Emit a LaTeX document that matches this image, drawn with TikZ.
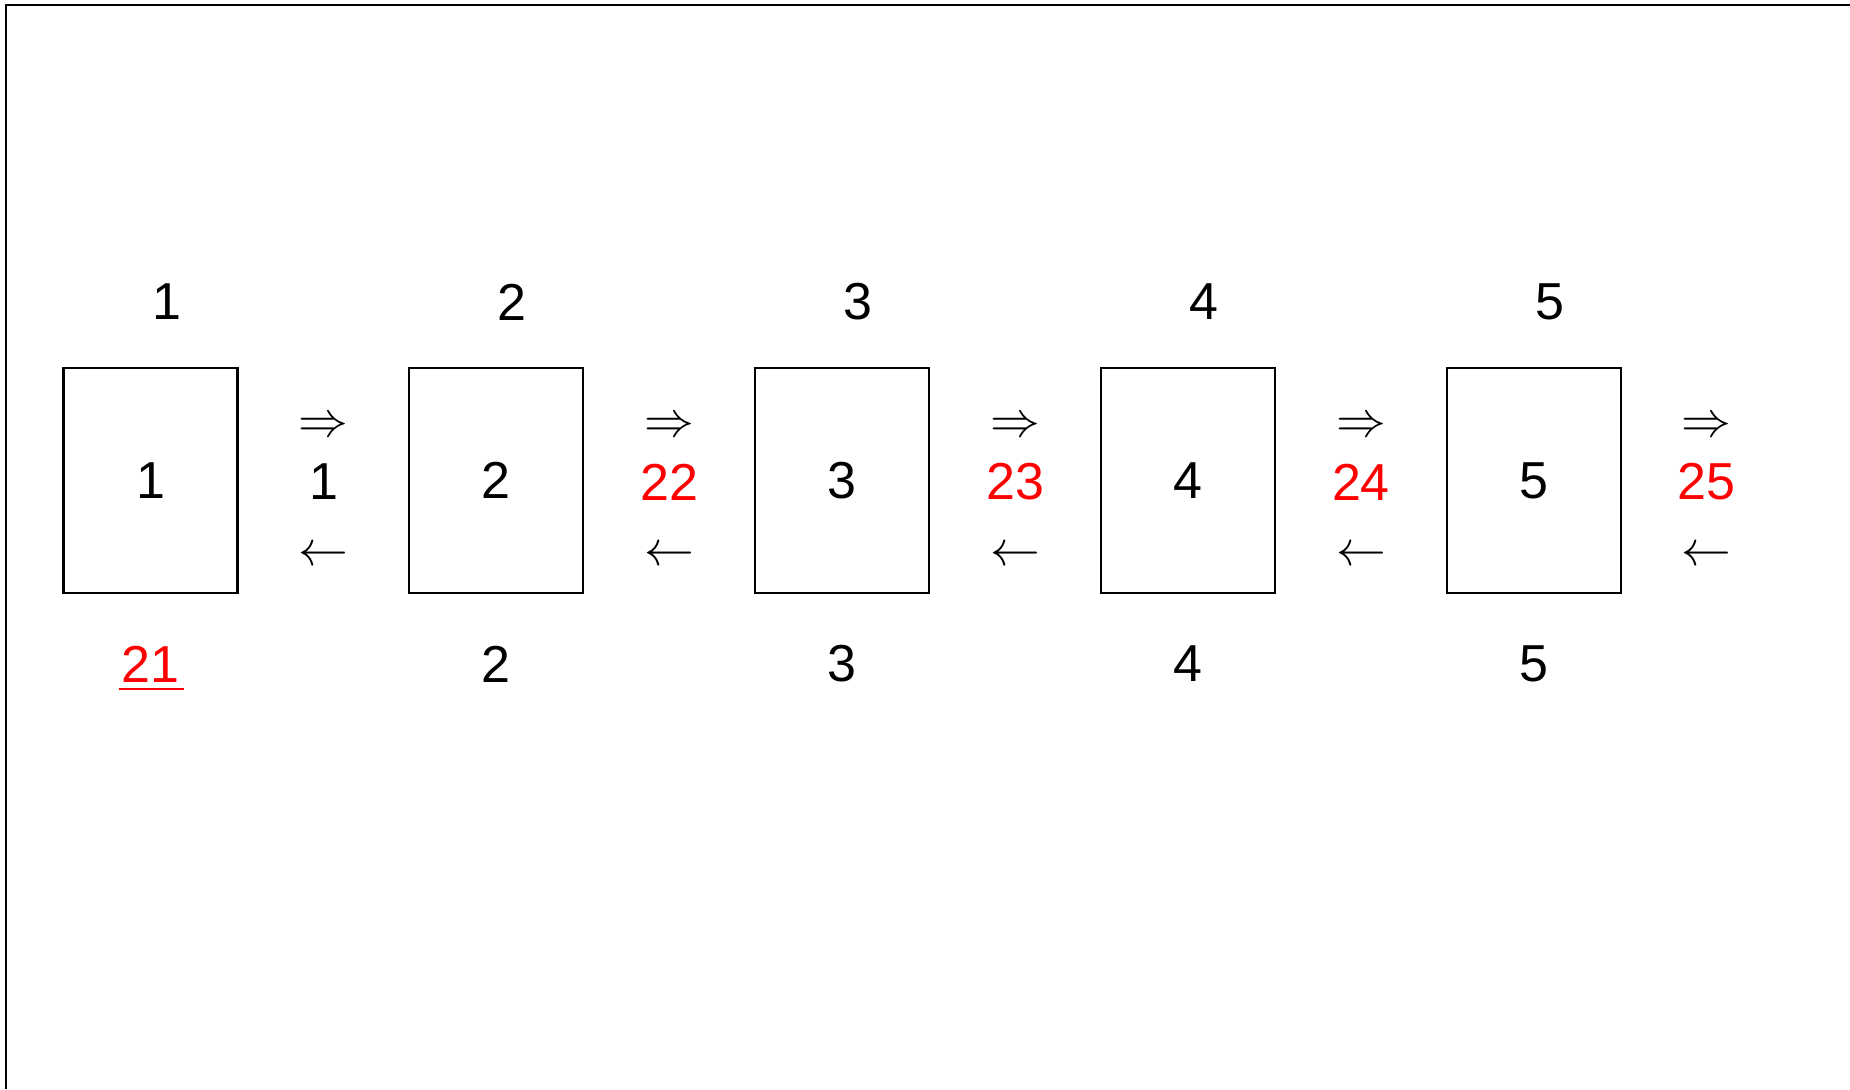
\documentclass[tikz,border=0pt]{standalone}
\usepackage{fontspec}
\setmainfont{Liberation Sans}
\usepackage{tikz}
\usetikzlibrary{positioning}
\definecolor{ink}{HTML}{000000}
\definecolor{hot}{HTML}{FF0000}
\tikzset{
  frame/.style   = {draw=ink, line width=1pt},
  cell/.style    = {draw=ink, line width=1.1pt, minimum width=87pt, minimum height=112.5pt, inner sep=0pt},
  num/.style     = {font=\fontsize{26}{30}\selectfont, text=ink, inner sep=0pt, outer sep=0pt},
  numhot/.style  = {num, text=hot},
  glyph/.style   = {font=\fontsize{25}{30}\selectfont, text=ink, inner sep=0pt, outer sep=0pt},
  hotrule/.style = {draw=hot, line width=1pt},
}

\begin{document}
\begin{tikzpicture}[x=0.5pt,y=-0.5pt]
\path[use as bounding box] (0,0) rectangle (1850,1089);

% ---- frame: only top and left edges show --------------------------------
\draw[frame] (6,1089) -- (6,4.5) -- (1850,4.5);

% ---- cells with their labels --------------------------------------------
\foreach \i/\x/\mid/\col in {1/150.5/1/ink, 2/496.3/22/hot, 3/842.1/23/hot, 4/1187.9/24/hot, 5/1533.7/25/hot} {
  \node[cell] (box\i) at (\x,480.5) {};
  \node[num] (in\i) at (box\i.center) {\i};
  \node[num] (top\i) at (\x+16,302) {\i};
  \node[num, text=\col] (mid\i) at (\x+173,482) {\mid};
  \node[glyph] (fwd\i) at (\x+173,427) {$\Rightarrow$};
  \node[glyph] (back\i) at (\x+173,556) {$\leftarrow$};
}

% bottom row: the first one is marked
\node[numhot] (bot1) at (150.5,664) {21};
\draw[hotrule] ([xshift=-1.5pt,yshift=-3.5pt]bot1.south west) -- ([xshift=2.5pt,yshift=-3.5pt]bot1.south east);
\foreach \i/\x in {2/496.3, 3/842.1, 4/1187.9, 5/1533.7} {
  \node[num] (bot\i) at (\x,664) {\i};
}

\end{tikzpicture}
\end{document}
